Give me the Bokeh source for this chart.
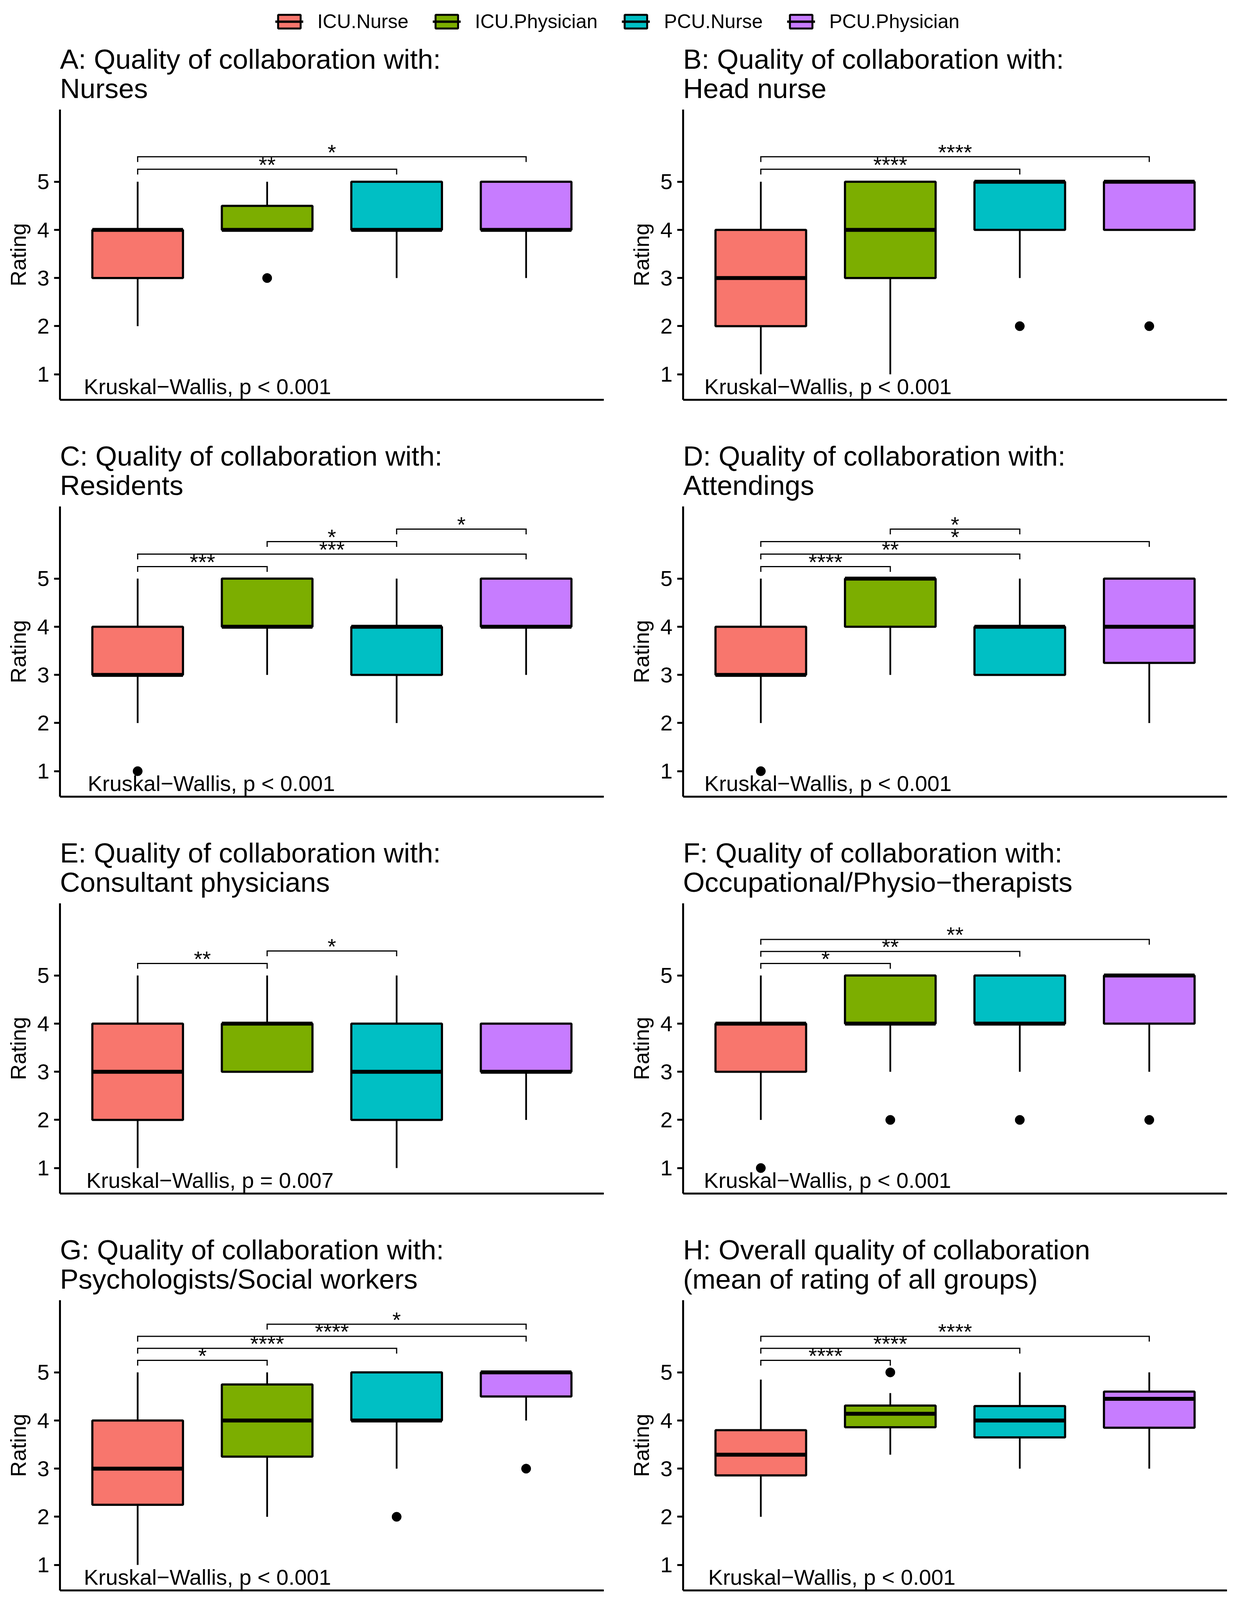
from bokeh.plotting import figure
from bokeh.models import Range1d, FixedTicker, Title, Legend, LegendItem
from bokeh.layouts import column, row
from bokeh.embed import file_html
from bokeh.resources import INLINE
from bokeh.core.properties import value

# ---------------- data ----------------
groups = ["ICU.Nurse", "ICU.Physician", "PCU.Nurse", "PCU.Physician"]
colors = ["#F8766D", "#7CAE00", "#00BFC4", "#C77CFF"]

panel_ids = ["A", "B", "C", "D", "E", "F", "G", "H"]
title_line1 = [
    "A: Quality of collaboration with:",
    "B: Quality of collaboration with:",
    "C: Quality of collaboration with:",
    "D: Quality of collaboration with:",
    "E: Quality of collaboration with:",
    "F: Quality of collaboration with:",
    "G: Quality of collaboration with:",
    "H: Overall quality of collaboration",
]
title_line2 = [
    "Nurses",
    "Head nurse",
    "Residents",
    "Attendings",
    "Consultant physicians",
    "Occupational/Physio\u2212therapists",
    "Psychologists/Social workers",
    "(mean of rating of all groups)",
]

# box statistics per panel; groups in order ICU.Nurse, ICU.Physician, PCU.Nurse, PCU.Physician
whisker_low = [
    [2, 4, 3, 3],
    [1, 1, 3, 4],
    [2, 3, 2, 3],
    [2, 3, 3, 2],
    [1, 3, 1, 2],
    [2, 3, 3, 3],
    [1, 2, 3, 4],
    [2, 3.29, 3, 3],
]
q1 = [
    [3, 4, 4, 4],
    [2, 3, 4, 4],
    [3, 4, 3, 4],
    [3, 4, 3, 3.25],
    [2, 3, 2, 3],
    [3, 4, 4, 4],
    [2.25, 3.25, 4, 4.5],
    [2.86, 3.86, 3.65, 3.85],
]
median = [
    [4, 4, 4, 4],
    [3, 4, 5, 5],
    [3, 4, 4, 4],
    [3, 5, 4, 4],
    [3, 4, 3, 3],
    [4, 4, 4, 5],
    [3, 4, 4, 5],
    [3.29, 4.14, 4.0, 4.45],
]
q3 = [
    [4, 4.5, 5, 5],
    [4, 5, 5, 5],
    [4, 5, 4, 5],
    [4, 5, 4, 5],
    [4, 4, 4, 4],
    [4, 5, 5, 5],
    [4, 4.75, 5, 5],
    [3.8, 4.31, 4.3, 4.6],
]
whisker_high = [
    [5, 5, 5, 5],
    [5, 5, 5, 5],
    [5, 5, 5, 5],
    [5, 5, 5, 5],
    [5, 5, 5, 4],
    [5, 5, 5, 5],
    [5, 5, 5, 5],
    [4.85, 4.57, 5, 5],
]

outlier_panel = ["A", "B", "B", "C", "D", "F", "F", "F", "F", "G", "G", "H"]
outlier_group = ["ICU.Physician", "PCU.Nurse", "PCU.Physician", "ICU.Nurse", "ICU.Nurse",
                 "ICU.Nurse", "ICU.Physician", "PCU.Nurse", "PCU.Physician",
                 "PCU.Nurse", "PCU.Physician", "ICU.Physician"]
outlier_value = [3, 2, 2, 1, 1, 1, 2, 2, 2, 2, 3, 5]

bracket_panel = ["A", "A", "B", "B", "C", "C", "C", "C", "D", "D", "D", "D",
                 "E", "E", "F", "F", "F", "G", "G", "G", "G", "H", "H", "H"]
bracket_from = ["ICU.Nurse", "ICU.Nurse", "ICU.Nurse", "ICU.Nurse",
                "ICU.Nurse", "ICU.Nurse", "ICU.Physician", "PCU.Nurse",
                "ICU.Nurse", "ICU.Nurse", "ICU.Nurse", "ICU.Physician",
                "ICU.Nurse", "ICU.Physician",
                "ICU.Nurse", "ICU.Nurse", "ICU.Nurse",
                "ICU.Nurse", "ICU.Nurse", "ICU.Nurse", "ICU.Physician",
                "ICU.Nurse", "ICU.Nurse", "ICU.Nurse"]
bracket_to = ["PCU.Nurse", "PCU.Physician", "PCU.Nurse", "PCU.Physician",
              "ICU.Physician", "PCU.Physician", "PCU.Nurse", "PCU.Physician",
              "ICU.Physician", "PCU.Nurse", "PCU.Physician", "PCU.Nurse",
              "ICU.Physician", "PCU.Nurse",
              "ICU.Physician", "PCU.Nurse", "PCU.Physician",
              "ICU.Physician", "PCU.Nurse", "PCU.Physician", "PCU.Physician",
              "ICU.Physician", "PCU.Nurse", "PCU.Physician"]
bracket_y = [5.26, 5.52, 5.26, 5.52,
             5.25, 5.51, 5.77, 6.03,
             5.25, 5.51, 5.77, 6.03,
             5.25, 5.51,
             5.25, 5.50, 5.75,
             5.25, 5.50, 5.75, 6.00,
             5.25, 5.50, 5.75]
bracket_label = ["**", "*", "****", "****",
                 "***", "***", "*", "*",
                 "****", "**", "*", "*",
                 "**", "*",
                 "*", "**", "**",
                 "*", "****", "****", "*",
                 "****", "****", "****"]

kw_label = ["Kruskal\u2212Wallis, p < 0.001", "Kruskal\u2212Wallis, p < 0.001",
            "Kruskal\u2212Wallis, p < 0.001", "Kruskal\u2212Wallis, p < 0.001",
            "Kruskal\u2212Wallis, p = 0.007", "Kruskal\u2212Wallis, p < 0.001",
            "Kruskal\u2212Wallis, p < 0.001", "Kruskal\u2212Wallis, p < 0.001"]
kw_x = [0.584, 0.564, 0.614, 0.564, 0.604, 0.56, 0.584, 0.594]
kw_y = 0.745

y_ticks = [1, 2, 3, 4, 5]

# ---------------- style ----------------
FONT = "Liberation Sans"
BOX_W = 0.7
TIP = 0.11
ROW_H = 1016
TOP_B = 191
BOT_B = 82
LAST_BOT_B = 8


def make_panel(k, left_col, last_row):
    pid = panel_ids[k]
    xpos = [groups.index(g) + 1 for g in groups]
    p = figure(
        width=1580, height=(TOP_B + 743 + LAST_BOT_B) if last_row else ROW_H,
        x_range=Range1d(0.4, 4.6), y_range=Range1d(0.47, 6.5),
        output_backend="svg", toolbar_location=None,
        min_border_left=153 if left_col else 168,
        min_border_right=35 if left_col else 20,
        min_border_top=TOP_B, min_border_bottom=LAST_BOT_B if last_row else BOT_B,
    )
    p.title = None
    p.add_layout(Title(text=title_line2[k], text_font=FONT, text_font_size="71px",
                       text_font_style="normal", text_color="black",
                       align="left", standoff=29), "above")
    p.add_layout(Title(text=title_line1[k], text_font=FONT, text_font_size="71px",
                       text_font_style="normal", text_color="black",
                       align="left", standoff=-41), "above")
    p.outline_line_color = None
    p.grid.visible = False
    p.background_fill_color = "white"
    p.border_fill_color = "white"

    # axes
    p.yaxis.ticker = FixedTicker(ticks=y_ticks)
    p.yaxis.axis_label = "Rating"
    p.yaxis.axis_label_text_font = FONT
    p.yaxis.axis_label_text_font_size = "56px"
    p.yaxis.axis_label_text_font_style = "normal"
    p.yaxis.axis_label_text_color = "black"
    p.yaxis.axis_label_standoff = 14
    p.yaxis.major_label_text_font = FONT
    p.yaxis.major_label_text_font_size = "56px"
    p.yaxis.major_label_text_color = "black"
    p.yaxis.major_label_standoff = 12
    p.yaxis.major_tick_out = 15
    p.yaxis.major_tick_in = 0
    p.yaxis.major_tick_line_width = 5
    p.yaxis.minor_tick_line_color = None
    p.yaxis.axis_line_width = 5
    p.xaxis.ticker = FixedTicker(ticks=[])
    p.xaxis.major_tick_line_color = None
    p.xaxis.minor_tick_line_color = None
    p.xaxis.major_label_text_font_size = "0px"
    p.xaxis.axis_line_width = 5

    lo, a, m, b, hi = whisker_low[k], q1[k], median[k], q3[k], whisker_high[k]

    # whiskers
    p.segment(x0=xpos, y0=lo, x1=xpos, y1=a, line_color="black", line_width=4.5)
    p.segment(x0=xpos, y0=b, x1=xpos, y1=hi, line_color="black", line_width=4.5)
    # boxes
    p.vbar(x=xpos, width=BOX_W, bottom=a, top=b, fill_color=colors,
           line_color="black", line_width=5.5)
    # medians
    p.segment(x0=[x - BOX_W / 2 for x in xpos], y0=m,
              x1=[x + BOX_W / 2 for x in xpos], y1=m,
              line_color="black", line_width=10)
    # outliers
    ox = [groups.index(g) + 1 for pp, g in zip(outlier_panel, outlier_group) if pp == pid]
    oy = [v for pp, v in zip(outlier_panel, outlier_value) if pp == pid]
    if ox:
        p.scatter(x=ox, y=oy, size=24, color="black")

    # significance brackets
    xs, ys, lx, ly, lt = [], [], [], [], []
    for pp, g1, g2, yv, lab in zip(bracket_panel, bracket_from, bracket_to, bracket_y, bracket_label):
        if pp != pid:
            continue
        x1 = groups.index(g1) + 1
        x2 = groups.index(g2) + 1
        xs.append([x1, x1, x2, x2])
        ys.append([yv - TIP, yv, yv, yv - TIP])
        lx.append((x1 + x2) / 2)
        ly.append(yv)
        lt.append(lab)
    p.multi_line(xs=xs, ys=ys, line_color="black", line_width=3, line_join="miter")
    p.text(x=lx, y=ly, text=lt, text_font=value(FONT), text_font_size="56px",
           text_align="center", text_baseline="alphabetic", y_offset=-12, text_color="black")

    # Kruskal-Wallis label
    p.text(x=[kw_x[k]], y=[kw_y], text=[kw_label[k]], text_font=value(FONT),
           text_font_size="56px", text_align="left", text_baseline="alphabetic",
           text_color="black")
    return p


panels = []
for k in range(8):
    panels.append(make_panel(k, left_col=(k % 2 == 0), last_row=(k >= 6)))

# ---------------- legend ----------------
nan = float("nan")
lg = figure(width=3160, height=89, x_range=Range1d(0, 1), y_range=Range1d(0, 1),
            output_backend="svg", toolbar_location=None,
            x_axis_location=None, y_axis_location=None,
            min_border_left=0, min_border_right=0, min_border_top=20, min_border_bottom=0)
lg.outline_line_color = None
lg.grid.visible = False
items = []
for g, c in zip(groups, colors):
    rb = lg.vbar(x=[nan], width=0.1, top=[nan], bottom=[nan], fill_color=c,
                 line_color="black", line_width=5)
    rm = lg.segment(x0=[nan], y0=[nan], x1=[nan], y1=[nan], line_color="black", line_width=6)
    items.append(LegendItem(label=g, renderers=[rb, rm]))
legend = Legend(items=items, orientation="horizontal", location="center",
                label_text_font=FONT, label_text_font_size="50px", label_text_color="black",
                glyph_width=72, glyph_height=44, label_standoff=36, spacing=62,
                border_line_color=None, background_fill_alpha=0, padding=0, margin=0)
lg.add_layout(legend, "center")

layout = column(
    lg,
    row(panels[0], panels[1]),
    row(panels[2], panels[3]),
    row(panels[4], panels[5]),
    row(panels[6], panels[7]),
)

open("out.html", "w").write(file_html(layout, INLINE))
